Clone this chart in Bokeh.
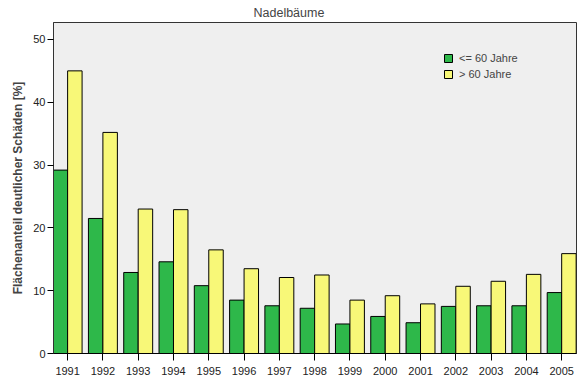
from bokeh.plotting import figure
from bokeh.models import Range1d, FixedTicker, Legend, LegendItem, ColumnDataSource
from bokeh.embed import file_html
from bokeh.resources import INLINE

years = ["1991", "1992", "1993", "1994", "1995", "1996", "1997", "1998",
         "1999", "2000", "2001", "2002", "2003", "2004", "2005"]
young = [29.2, 21.5, 12.9, 14.6, 10.8, 8.5, 7.6, 7.2, 4.7, 5.9, 4.9, 7.5, 7.6, 7.6, 9.7]
old = [45.0, 35.2, 23.0, 22.9, 16.5, 13.5, 12.1, 12.5, 8.5, 9.2, 7.9, 10.7, 11.5, 12.6, 15.9]
series_names = ["<= 60 Jahre", "> 60 Jahre"]
y_ticks = [0, 10, 20, 30, 40, 50]

FONT = "Liberation Sans"
idx = list(range(len(years)))
bw = 0.41

src = ColumnDataSource(dict(
    xg=[i - bw / 2 for i in idx],
    xy=[i + bw / 2 for i in idx],
    young=young, old=old,
))

p = figure(width=577, height=378, output_backend="svg", toolbar_location=None,
           x_range=Range1d(-0.4, 14.42), y_range=Range1d(0, 52.7),
           min_border_left=53, min_border_right=1, min_border_top=22, min_border_bottom=25)

p.background_fill_color = "#efefef"
p.border_fill_color = "white"
p.outline_line_color = "#333333"
p.outline_line_width = 1
p.grid.visible = False

p.title.text = "Nadelbäume"
p.title.text_font = FONT
p.title.text_font_size = "12.5px"
p.title.text_font_style = "normal"
p.title.align = "left"
p.title.offset = 200
p.title.standoff = 6

r1 = p.vbar(x="xg", width=bw, top="young", bottom=0, source=src,
            fill_color="#2eb84a", line_color="black", line_width=1)
r2 = p.vbar(x="xy", width=bw, top="old", bottom=0, source=src,
            fill_color="#f8f878", line_color="black", line_width=1)

xa = p.xaxis[0]
xa.ticker = FixedTicker(ticks=idx)
xa.major_label_overrides = {i: y for i, y in zip(idx, years)}
xa.major_tick_out = 7
xa.major_tick_in = 0
xa.minor_tick_line_color = None
xa.major_label_standoff = 6
xa.major_label_text_font = FONT
xa.major_label_text_font_size = "11px"
xa.major_label_text_color = "#222222"
xa.axis_line_color = "black"

ya = p.yaxis[0]
ya.ticker = FixedTicker(ticks=y_ticks)
ya.major_tick_out = 6
ya.major_tick_in = 0
ya.minor_tick_line_color = None
ya.major_label_standoff = 2
ya.major_label_text_font = FONT
ya.major_label_text_font_size = "11px"
ya.major_label_text_color = "#222222"
ya.axis_label = "Flächenanteil deutlicher Schäden [%]"
ya.axis_label_text_font = FONT
ya.axis_label_text_font_size = "12px"
ya.axis_label_text_font_style = "bold"
ya.axis_label_standoff = 5
ya.axis_line_color = "#333333"

legend = Legend(items=[LegendItem(label=series_names[0], renderers=[r1]),
                       LegendItem(label=series_names[1], renderers=[r2])],
                location=(390, 273), padding=0, margin=0, spacing=4,
                glyph_width=10, glyph_height=10, label_height=10, label_standoff=6,
                label_text_font=FONT, label_text_font_size="11px",
                border_line_alpha=0, background_fill_alpha=0)
p.add_layout(legend)

open("out.html", "w").write(file_html(p, INLINE))
